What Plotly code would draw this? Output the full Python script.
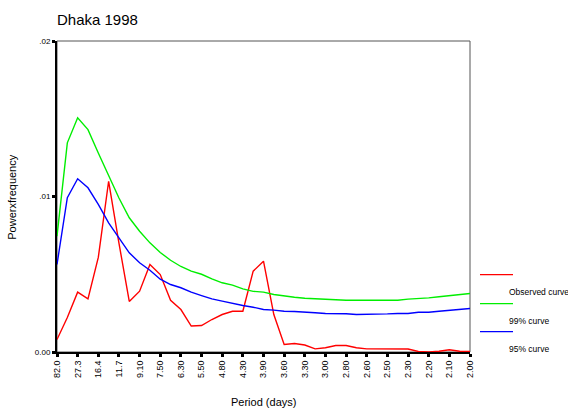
import plotly.graph_objects as go

# Period labels (every other spectral point is labelled)
period_labels = ["82.0", "27.3", "16.4", "11.7", "9.10", "7.50", "6.30", "5.50", "4.80",
                 "4.30", "3.90", "3.60", "3.30", "3.00", "2.80", "2.60", "2.50", "2.30",
                 "2.20", "2.10", "2.00"]
point_index = list(range(41))
label_index = point_index[::2]

observed = [0.0008, 0.00222, 0.00385, 0.00342, 0.00608, 0.01098, 0.0070, 0.00325, 0.00391,
            0.00563, 0.00498, 0.00333, 0.00273, 0.00167, 0.0017, 0.00209, 0.00241, 0.00262,
            0.00262, 0.0052, 0.00584, 0.00241, 0.00048, 0.00055, 0.00045, 0.0002, 0.00027,
            0.00042, 0.00042, 0.00027, 0.0002, 0.00019, 0.00019, 0.00019, 0.00019, 0.00003,
            0.0, 0.00005, 0.00014, 0.00005, 0.00003]
curve99 = [0.00745, 0.01345, 0.01506, 0.0143, 0.0128, 0.0113, 0.0099, 0.00863, 0.00777,
           0.00702, 0.0064, 0.0059, 0.0055, 0.0052, 0.005, 0.0047, 0.00445, 0.0043, 0.00406,
           0.0039, 0.00385, 0.0037, 0.0036, 0.00352, 0.00346, 0.00342, 0.00338, 0.00335,
           0.00333, 0.00333, 0.00333, 0.00333, 0.00333, 0.00333, 0.0034, 0.00342, 0.00348,
           0.00355, 0.00362, 0.0037, 0.00376]
curve95 = [0.00563, 0.00992, 0.01114, 0.01056, 0.00949, 0.00831, 0.00734, 0.00638, 0.00574,
           0.00526, 0.00468, 0.00434, 0.00413, 0.00385, 0.00363, 0.00342, 0.00327, 0.00312,
           0.00299, 0.00288, 0.00273, 0.00269, 0.00262, 0.0026, 0.00254, 0.00252, 0.00248,
           0.00248, 0.00246, 0.00241, 0.00241, 0.00241, 0.00245, 0.00248, 0.00248, 0.00256,
           0.00256, 0.00262, 0.00267, 0.00273, 0.0028]

series_names = ["Observed curve", "99% curve", "95% curve"]
series_colors = ["#ff0000", "#00ee00", "#0000ff"]

FONT = "Liberation Sans, Arial, sans-serif"

plot_top, plot_bottom, plot_left, plot_right = 41, 352.5, 57, 470
ph = plot_bottom - plot_top
pw = plot_right - plot_left


def px_to_paper(xp, yp):
    return (xp - plot_left) / pw, (plot_bottom - yp) / ph


fig = go.Figure()
for name, vals, col in zip(series_names, [observed, curve99, curve95], series_colors):
    fig.add_trace(go.Scatter(x=point_index, y=vals, mode="lines", name=name,
                             line=dict(color=col, width=1.4), showlegend=False,
                             cliponaxis=True))

# custom legend: line sample, text below and to the right
legend_y = [275, 304, 332]
for i, (name, col) in enumerate(zip(series_names, series_colors)):
    x0, y0 = px_to_paper(480, legend_y[i])
    x1, _ = px_to_paper(513, legend_y[i])
    fig.add_shape(type="line", xref="paper", yref="paper", x0=x0, x1=x1, y0=y0, y1=y0,
                  line=dict(color=col, width=1.2))
    tx, ty = px_to_paper(507, legend_y[i] + 17)
    fig.add_annotation(xref="paper", yref="paper", x=tx, y=ty, text=name, showarrow=False,
                       xanchor="left", yanchor="middle",
                       font=dict(family=FONT, size=8.5, color="#000"))

# frame top/right
fig.add_shape(type="rect", xref="paper", yref="paper", x0=0, x1=1, y0=0, y1=1,
              line=dict(color="#555", width=1), layer="below")

# axis titles as annotations for exact placement
tx, ty = px_to_paper(263, 403)
fig.add_annotation(xref="paper", yref="paper", x=tx, y=ty, text="Period (days)",
                   showarrow=False, xanchor="center", yanchor="middle",
                   font=dict(family=FONT, size=11, color="#000"))
tx, ty = px_to_paper(12, 198)
fig.add_annotation(xref="paper", yref="paper", x=tx, y=ty, text="Powerxfrequency",
                   showarrow=False, xanchor="center", yanchor="middle", textangle=-90,
                   font=dict(family=FONT, size=11, color="#000"))

fig.update_layout(
    width=568, height=410,
    margin=dict(l=plot_left, r=568 - plot_right, t=plot_top, b=410 - plot_bottom,
                autoexpand=False),
    paper_bgcolor="white", plot_bgcolor="white",
    font=dict(family=FONT, color="#000"),
    title=dict(text="Dhaka 1998", x=57 / 568, xanchor="left", y=1 - 20 / 410, yanchor="middle",
               font=dict(family=FONT, size=15, color="#000")),
    xaxis=dict(range=[0, 40], tickmode="array", tickvals=label_index, ticktext=period_labels,
               tickangle=-90, tickfont=dict(size=9, family=FONT), showgrid=False,
               zeroline=False, showline=True, linecolor="#000", linewidth=2,
               ticks="outside", ticklen=3, tickwidth=3, tickcolor="#000",
               automargin=False),
    yaxis=dict(range=[0, 0.02], tickmode="array", tickvals=[0, 0.01, 0.02],
               ticktext=["0.00", ".01", ".02"], tickfont=dict(size=8, family=FONT),
               showgrid=False, zeroline=False, showline=True, linecolor="#000", linewidth=2,
               ticks="outside", ticklen=3, tickwidth=3, tickcolor="#000",
               automargin=False),
)

fig.write_html("out.html")
